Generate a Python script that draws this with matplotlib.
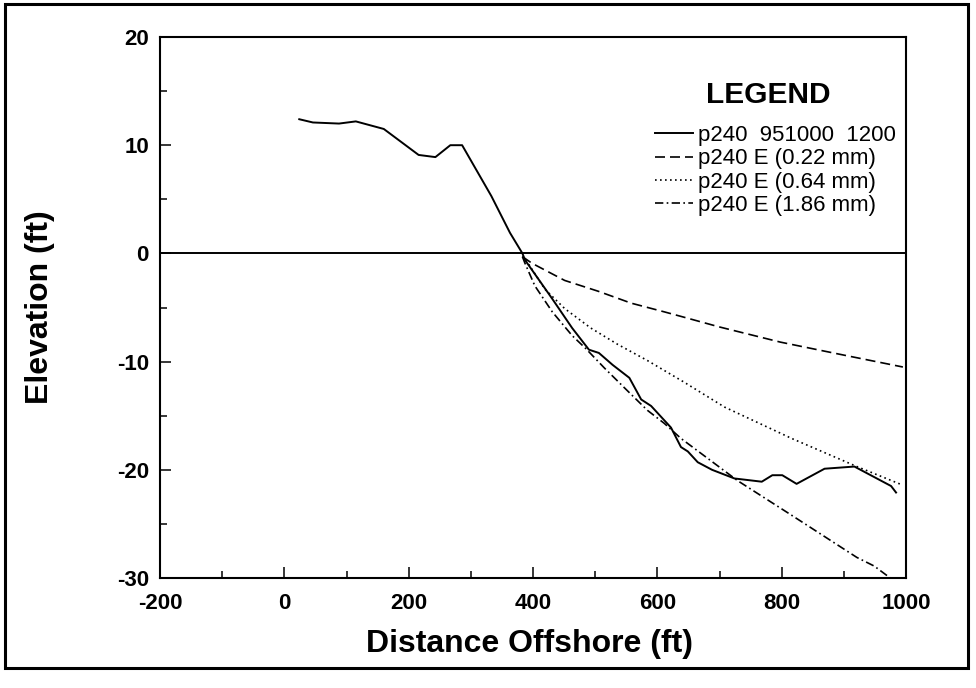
import matplotlib
matplotlib.use("Agg")
import matplotlib.pyplot as plt
from matplotlib.patches import Rectangle

plt.rcParams['font.family'] = ['Liberation Sans', 'DejaVu Sans']
plt.rcParams['axes.unicode_minus'] = False

# measured profile p240 951000 1200
profile_x = [24, 46, 88, 115, 160, 195, 216, 243, 267, 286, 333, 363, 383, 387,
             431, 463, 490, 506, 528, 555, 574, 590, 622, 638, 649, 665, 688,
             724, 768, 785, 801, 824, 869, 917, 976, 984]
profile_y = [12.4, 12.1, 12.0, 12.2, 11.5, 10.0, 9.1, 8.9, 10.0, 10.0, 5.3, 1.9,
             0.0, -0.6, -4.2, -6.9, -8.9, -9.2, -10.3, -11.5, -13.5, -14.1,
             -16.1, -17.9, -18.3, -19.3, -20.0, -20.8, -21.1, -20.5, -20.5,
             -21.3, -19.9, -19.7, -21.5, -22.1]

# equilibrium profiles
e022_x = [383, 398, 451, 505, 558, 611, 643, 700, 798, 900, 995]
e022_y = [-0.3, -0.9, -2.5, -3.5, -4.6, -5.4, -5.9, -6.8, -8.2, -9.4, -10.5]

e064_x = [383, 392, 419, 451, 493, 536, 584, 643, 708, 816, 921, 994]
e064_y = [-0.3, -0.9, -3.3, -5.1, -6.9, -8.4, -9.9, -11.9, -14.2, -17.1, -19.7, -21.4]

e186_x = [383, 387, 403, 431, 463, 485, 515, 552, 584, 611, 638, 729, 816, 921, 949, 984]
e186_y = [-0.3, -0.9, -3.0, -5.4, -7.6, -8.8, -10.6, -12.7, -14.5, -15.7, -17.1,
          -21.0, -24.2, -28.1, -28.9, -30.4]

labels = ["p240  951000  1200", "p240 E (0.22 mm)", "p240 E (0.64 mm)", "p240 E (1.86 mm)"]

W, H = 976, 688
fig = plt.figure(figsize=(W / 100, H / 100), dpi=100)
ax = fig.add_axes([160 / W, 1 - 578 / H, (906 - 160) / W, (578 - 37) / H])

ax.plot(profile_x, profile_y, color='black', lw=1.4, label=labels[0])
ax.plot(e022_x, e022_y, color='black', lw=1.2, linestyle=(0, (6, 3)), label=labels[1])
ax.plot(e064_x, e064_y, color='black', lw=1.2, linestyle=(0, (1, 2)), label=labels[2])
ax.plot(e186_x, e186_y, color='black', lw=1.2, linestyle=(0, (5, 2, 1, 2)), label=labels[3])
ax.axhline(0, color='black', lw=1.4)

ax.set_xlim(-200, 1000)
ax.set_ylim(-30, 20)
ax.set_xticks(range(-200, 1001, 200))
ax.set_xticks(range(-200, 1001, 100), minor=True)
ax.set_yticks(range(-30, 21, 10))
ax.set_yticks(range(-30, 21, 5), minor=True)
ax.tick_params(which='both', direction='in', width=1.1, labelsize=16)
ax.tick_params(axis='x', which='major', length=8, pad=11)
ax.tick_params(axis='y', which='major', length=8, pad=8)
ax.tick_params(which='minor', length=5)
for lab in ax.get_xticklabels() + ax.get_yticklabels():
    lab.set_fontweight('bold')
for s in ax.spines.values():
    s.set_linewidth(1.5)

ax.set_xlabel("Distance Offshore (ft)", fontsize=23, fontweight='bold')
ax.set_ylabel("Elevation (ft)", fontsize=23, fontweight='bold')
ax.xaxis.set_label_coords(0.495, -0.094)
ax.yaxis.set_label_coords(-0.141, 0.5)

ax.text(0.815, 0.893, "LEGEND", transform=ax.transAxes, ha='center', va='center',
        fontsize=21.5, fontweight='bold')
ax.legend(loc='upper left', bbox_to_anchor=(0.6635, 0.837), frameon=False,
          fontsize=16, handlelength=1.7, handletextpad=0.25, labelspacing=0.1,
          borderpad=0, borderaxespad=0)

# outer frame of the page
fig.patches.append(Rectangle((5 / W, 1 - 668 / H), (968 - 5) / W, (668 - 4) / H,
                             transform=fig.transFigure, fill=False,
                             edgecolor='black', lw=2.2))

fig.savefig("out.png", dpi=100)
